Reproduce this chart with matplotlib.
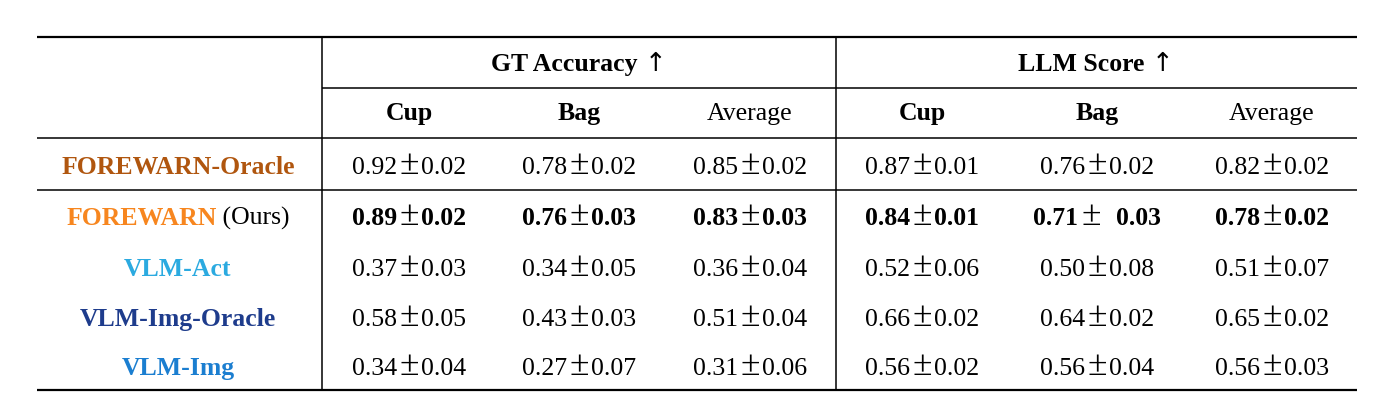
import matplotlib
matplotlib.use("Agg")
import matplotlib.pyplot as plt

plt.rcParams['font.family'] = ['Liberation Serif', 'DejaVu Serif']

groups = ["GT Accuracy", "LLM Score"]
group_arrow = "↑"
subcols = ["Cup", "Bag", "Average"]
subcol_bold = [True, True, False]
methods = ["FOREWARN-Oracle", "FOREWARN", "VLM-Act", "VLM-Img-Oracle", "VLM-Img"]
method_colors = ["#B0560F", "#F7861F", "#2BAAE0", "#1E3C8C", "#1B7ED0"]
method_suffix = ["", " (Ours)", "", "", ""]
bold_rows = [False, True, False, False, False]

gt_mean = [[0.92, 0.78, 0.85], [0.89, 0.76, 0.83], [0.37, 0.34, 0.36], [0.58, 0.43, 0.51], [0.34, 0.27, 0.31]]
gt_std = [[0.02, 0.02, 0.02], [0.02, 0.03, 0.03], [0.03, 0.05, 0.04], [0.05, 0.03, 0.04], [0.04, 0.07, 0.06]]
llm_mean = [[0.87, 0.76, 0.82], [0.84, 0.71, 0.78], [0.52, 0.50, 0.51], [0.66, 0.64, 0.65], [0.56, 0.56, 0.56]]
llm_std = [[0.01, 0.02, 0.02], [0.01, 0.03, 0.02], [0.06, 0.08, 0.07], [0.02, 0.02, 0.02], [0.02, 0.04, 0.03]]

W, H = 1378, 411
fig = plt.figure(figsize=(W / 100, H / 100), dpi=100)
ax = fig.add_axes([0, 0, 1, 1])
ax.set_xlim(0, W)
ax.set_ylim(H, 0)
ax.axis('off')

x0, x1 = 37, 1357
xv1, xv2 = 322, 836
fs = 18.5
fs_pm = 25.5

# rules
ax.plot([x0, x1], [37, 37], color='black', lw=1.6, solid_capstyle='butt')
ax.plot([x0, x1], [390, 390], color='black', lw=1.6, solid_capstyle='butt')
ax.plot([xv1, x1], [88, 88], color='black', lw=1.1, solid_capstyle='butt')
ax.plot([x0, x1], [138, 138], color='black', lw=1.1, solid_capstyle='butt')
ax.plot([x0, x1], [190, 190], color='black', lw=1.1, solid_capstyle='butt')
for xv in (xv1, xv2):
    ax.plot([xv, xv], [37, 390], color='black', lw=1.1, solid_capstyle='butt')

fig.canvas.draw()
renderer = fig.canvas.get_renderer()


def width(t):
    return t.get_window_extent(renderer).width


# headers
group_x = [579, 1096]
for g, gx in zip(groups, group_x):
    ta = ax.text(0, 71, g, ha='left', va='baseline', fontsize=fs, fontweight='bold')
    tb = ax.text(0, 71, group_arrow, ha='left', va='baseline', fontsize=fs,
                 family=['DejaVu Sans'])
    wa, wb = width(ta), width(tb)
    gap = 7
    sx = gx - (wa + gap + wb) / 2
    ta.set_x(sx)
    tb.set_x(sx + wa + gap)

col_x = [[409, 579, 750], [922, 1097, 1272]]
for gi in range(2):
    for ci, name in enumerate(subcols):
        ax.text(col_x[gi][ci], 120, name, ha='center', va='baseline', fontsize=fs,
                fontweight='bold' if subcol_bold[ci] else 'normal')

row_y = [174, 225, 276, 326, 375]
label_cx = 178

g1, g2 = 3, 2
for ri, m in enumerate(methods):
    y = row_y[ri]
    if method_suffix[ri]:
        t1 = ax.text(0, y, m, ha='left', va='baseline', fontsize=fs, fontweight='bold',
                     color=method_colors[ri])
        t2 = ax.text(0, y, method_suffix[ri], ha='left', va='baseline', fontsize=fs,
                     color='black')
        w1, w2 = width(t1), width(t2)
        start = label_cx - (w1 + w2) / 2
        t1.set_x(start)
        t2.set_x(start + w1)
    else:
        ax.text(label_cx, y, m, ha='center', va='baseline', fontsize=fs, fontweight='bold',
                color=method_colors[ri])
    for gi, (mean, std) in enumerate([(gt_mean, gt_std), (llm_mean, llm_std)]):
        for ci in range(3):
            wt = 'bold' if bold_rows[ri] else 'normal'
            pre = "  " if (bold_rows[ri] and gi == 1 and ci == 1) else ""
            tm = ax.text(0, y, f"{mean[ri][ci]:.2f}", ha='left', va='baseline',
                         fontsize=fs, fontweight=wt)
            tp = ax.text(0, y, "±", ha='left', va='baseline', fontsize=fs_pm)
            ts = ax.text(0, y, f"{pre}{std[ri][ci]:.2f}", ha='left', va='baseline',
                         fontsize=fs, fontweight=wt)
            wm, wp, ws = width(tm), width(tp), width(ts)
            total = wm + g1 + wp + g2 + ws
            sx = col_x[gi][ci] - total / 2
            tm.set_x(sx)
            tp.set_x(sx + wm + g1)
            ts.set_x(sx + wm + g1 + wp + g2)

fig.savefig("out.png", dpi=100)
